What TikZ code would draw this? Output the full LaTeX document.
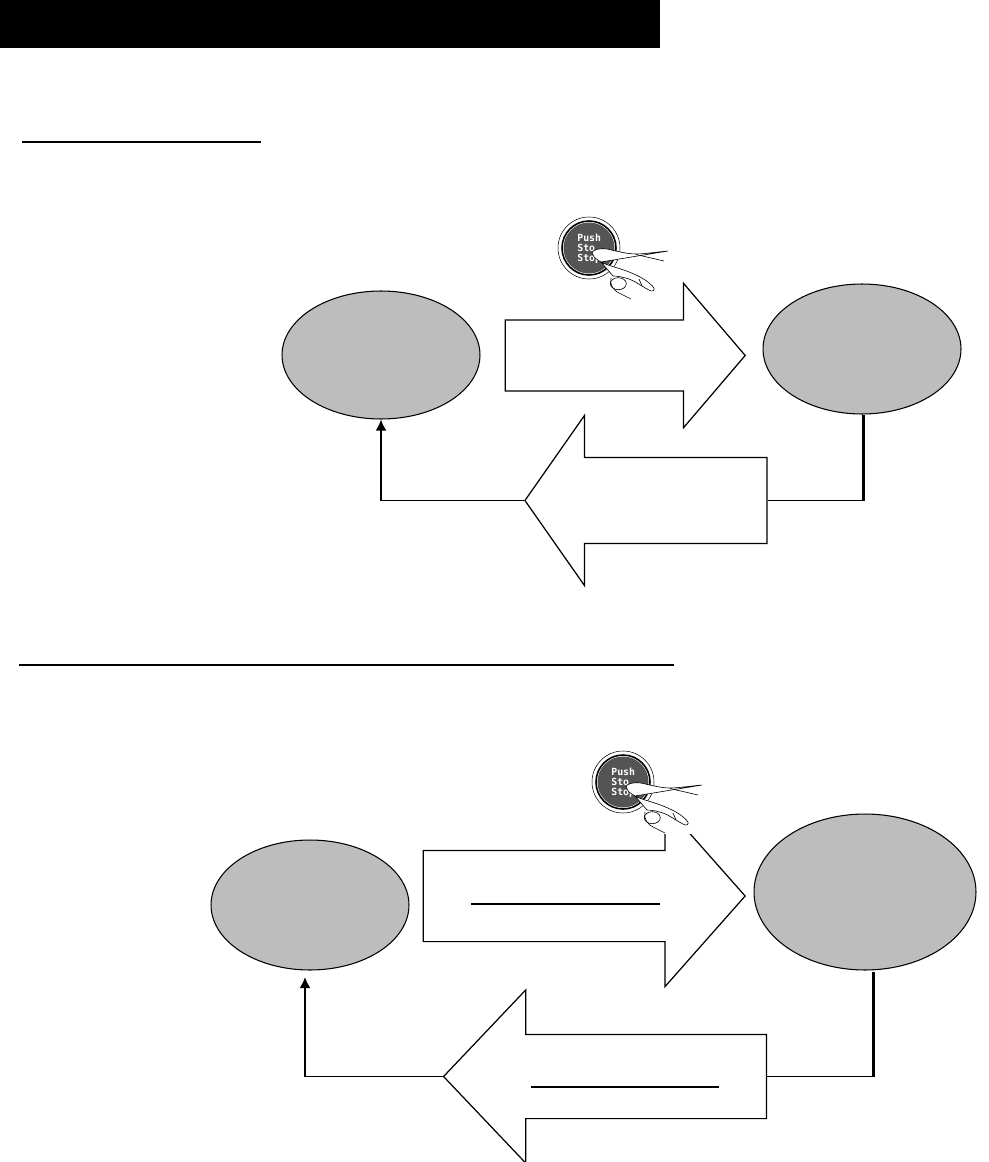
\documentclass[tikz,border=0pt]{standalone}
\usepackage{amsmath, amssymb}
\usepackage{fontspec}
\setmainfont{Liberation Sans}
\newfontfamily\knobfont{DejaVu Sans Mono}
\usetikzlibrary{positioning,arrows.meta,shapes.arrows,shapes.geometric}
\definecolor{statefill}{gray}{0.74}
\definecolor{knobfill}{gray}{0.33}
\tikzset{
  px/.style={x=0.02cm, y=-0.02cm},
  flowarrow/.style={-{Latex[length=2.2mm, width=2.2mm]}, line width=1.1pt},
  flowline/.style={line width=1.1pt},
  stemline/.style={line width=1.7pt},
  rulebar/.style={line width=1pt},
  handline/.style={line width=0.35pt},
  statenode/.style={draw, ellipse, line width=0.6pt, fill=statefill, inner sep=0pt},
  bigarrow/.style={draw, single arrow, line width=0.7pt, fill=white, inner xsep=0pt, single arrow head indent=0pt},
  pics/pushbutton/.style={code={
    \fill[white] (-40,-38) rectangle (78,52);
    \draw[line width=0.3pt] (0,0) circle (31);
    \draw[line width=0.9pt] (0,0) circle (27);
    \fill[knobfill] (0,0) circle (25.5);
    \node[white, font=\fontsize{5.6}{5.7}\selectfont\knobfont\bfseries, align=left, inner sep=0pt, anchor=west] (-pushtext) at (-12,1) {Push\\Sto\\Stop};
    % index finger
    \path[handline, draw=black, fill=white] (79,3) .. controls (68,4) and (55,6) .. (47,6) .. controls (38,6) and (27,3) .. (18,1) .. controls (10,0) and (3,2) .. (3,5) .. controls (4,10) and (12,15) .. (22,18) .. controls (32,21) and (42,24) .. (53,30) .. controls (58,33) and (63,37) .. (65,40) .. controls (66,43) and (63,44) .. (60,42) .. controls (52,38) and (46,33) .. (40,31) .. controls (34,29) and (28,28) .. (24,28) -- (12,14) -- cycle;
    \draw[handline] (47,6.5) -- (75,13);
    \draw[handline] (50,31) -- (53,38);
    % lower finger with its nail
    \draw[handline, fill=white] (29.3,35.7) ellipse (8 and 6);
    \draw[handline] (22,30) .. controls (20,36) and (25,43) .. (30,45) .. controls (34,47) and (38,49) .. (42,51);
  }}
}
\begin{document}
\begin{tikzpicture}[px, >=Latex]
  \useasboundingbox (0,0) rectangle (988,1162);
  \fill[black] (0,0) rectangle (660,48);
  % upper case
  \draw[rulebar] (22,142) -- (261,142);
  \node[statenode, minimum width=3.96cm, minimum height=2.56cm] (offA) at (381,355) {};
  \node[statenode, minimum width=3.96cm, minimum height=2.6cm] (onA) at (862,349) {};
  \node[bigarrow, inner ysep=0.7cm, single arrow head extend=0.73cm, single arrow tip angle=99, minimum height=4.8cm] (pushA) at (610,355.5) {};
  \node[bigarrow, inner ysep=0.85cm, single arrow head extend=0.84cm, single arrow tip angle=110, minimum height=4.84cm, shape border rotate=180] (backA) at (661,500.5) {};
  \coordinate (cornerA) at (863,500.5);
  \draw[stemline] (onA.south -| cornerA) -- (cornerA);
  \draw[flowline] (cornerA) -- (backA.tail);
  \draw[flowarrow] (backA.tip) -| (offA.south);
  \pic at (589,248) {pushbutton};
  % lower case
  \draw[rulebar] (19,665) -- (674,665);
  \node[statenode, minimum width=3.96cm, minimum height=2.6cm] (offB) at (310,905) {};
  \node[statenode, minimum width=4.44cm, minimum height=3.12cm] (onB) at (865,892) {};
  \node[bigarrow, inner ysep=0.9cm, single arrow head extend=0.9cm, single arrow tip angle=97, minimum height=6.44cm] (pushB) at (564,896) {};
  \node[bigarrow, inner ysep=0.83cm, single arrow head extend=0.89cm, single arrow tip angle=93, minimum height=6.46cm, shape border rotate=180] (backB) at (625,1076.5) {};
  \coordinate (cornerB) at (873,1076.5);
  \coordinate (stemB) at (873,972);
  \coordinate (headB) at (305,977);
  \draw[stemline] (stemB) -- (cornerB);
  \draw[flowline] (cornerB) -- (backB.tail);
  \draw[flowarrow] (backB.tip) -| (headB);
  \draw[rulebar] (471,904) -- (660,904);
  \draw[rulebar] (531,1087) -- (719,1087);
  \pic at (623,782) {pushbutton};
\end{tikzpicture}
\end{document}
